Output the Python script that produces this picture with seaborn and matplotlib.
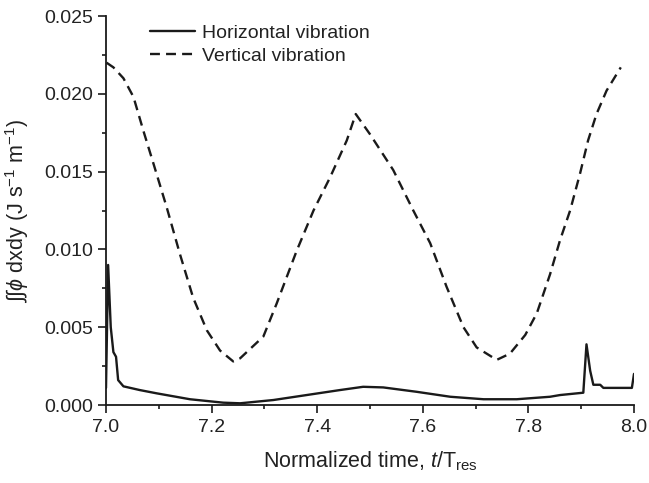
import numpy as np
import pandas as pd
import matplotlib
matplotlib.use("Agg")
import matplotlib.pyplot as plt
import seaborn as sns
from matplotlib.ticker import MultipleLocator, FormatStrFormatter

# Horizontal vibration (solid)
h_t = [7.000, 7.004, 7.009, 7.014, 7.019, 7.023, 7.033, 7.064, 7.096, 7.159, 7.222,
       7.254, 7.317, 7.380, 7.443, 7.487, 7.525, 7.588, 7.652, 7.715, 7.778, 7.841,
       7.860, 7.904, 7.910, 7.917, 7.923, 7.936, 7.942, 7.996, 8.000]
h_v = [0.0011, 0.0090, 0.0050, 0.0034, 0.0031, 0.0016, 0.0012, 0.00096, 0.00075, 0.00037,
       0.00015, 0.00011, 0.00032, 0.00064, 0.00096, 0.00117, 0.00113, 0.00085, 0.00053,
       0.00037, 0.00037, 0.00053, 0.00064, 0.00079, 0.0039, 0.0022, 0.0013, 0.0013,
       0.0011, 0.0011, 0.0020]

# Vertical vibration (dashed)
v_t = [7.001, 7.014, 7.033, 7.052, 7.071, 7.090, 7.115, 7.140, 7.165, 7.191, 7.216,
       7.241, 7.254, 7.298, 7.323, 7.361, 7.393, 7.424, 7.456, 7.473, 7.500, 7.544,
       7.582, 7.614, 7.645, 7.677, 7.702, 7.740, 7.765, 7.794, 7.816, 7.841, 7.860,
       7.879, 7.898, 7.913, 7.929, 7.948, 7.975]
v_v = [0.0220, 0.0217, 0.0210, 0.0198, 0.0176, 0.0155, 0.0127, 0.0097, 0.0069, 0.0048,
       0.0035, 0.0028, 0.0030, 0.0044, 0.0065, 0.0099, 0.0125, 0.0146, 0.0170, 0.0187,
       0.0174, 0.0151, 0.0125, 0.0104, 0.0076, 0.0050, 0.0037, 0.0029, 0.0033, 0.0045,
       0.0059, 0.0084, 0.0106, 0.0125, 0.0149, 0.0170, 0.0187, 0.0202, 0.0217]

labels = ["Horizontal vibration", "Vertical vibration"]

sns.set_theme(style="ticks")
plt.rcParams['font.family'] = ['Liberation Sans', 'DejaVu Sans']
plt.rcParams['mathtext.fontset'] = 'custom'
plt.rcParams['mathtext.rm'] = 'Liberation Sans'
plt.rcParams['mathtext.it'] = 'Liberation Sans:italic'
plt.rcParams['mathtext.sf'] = 'Liberation Sans'

FS = 14
LFS = 15.5
TXT = '#222222'
fig = plt.figure(figsize=(6.49, 4.83), dpi=100)
ax = fig.add_axes([106/649, 1-405/483, 528/649, 389/483])

col = '#1a1a1a'
sns.lineplot(x=h_t, y=h_v, ax=ax, color=col, lw=1.7, label=labels[0], sort=False)
sns.lineplot(x=v_t, y=v_v, ax=ax, color=col, lw=1.7, label=labels[1], sort=False,
             linestyle=(0, (4.2, 2.6)))

ax.set_xlim(7.0, 8.0)
ax.set_ylim(0.0, 0.025)
ax.xaxis.set_major_locator(MultipleLocator(0.2))
ax.xaxis.set_minor_locator(MultipleLocator(0.1))
ax.yaxis.set_major_locator(MultipleLocator(0.005))
ax.yaxis.set_minor_locator(MultipleLocator(0.0025))
ax.xaxis.set_major_formatter(FormatStrFormatter('%.1f'))
ax.yaxis.set_major_formatter(FormatStrFormatter('%.3f'))
ax.tick_params(which='major', direction='out', length=6, width=1.2, colors=col,
               labelsize=FS, labelcolor=TXT)
ax.tick_params(axis='x', which='major', pad=4)
ax.tick_params(axis='y', which='major', pad=3.5)
ax.tick_params(which='minor', direction='out', length=3, width=1.2, colors=col)
for s in ['top', 'right']:
    ax.spines[s].set_visible(False)
for s in ['left', 'bottom']:
    ax.spines[s].set_color(col)
    ax.spines[s].set_linewidth(1.3)

ax.set_xlabel(r'Normalized time, $\mathit{t}$/T$_{\rm res}$', fontsize=LFS, color=TXT, labelpad=10)
ax.set_ylabel('\u222B\u222B' + r'$\mathit{\phi}$ dxdy (J s$^{-1}$ m$^{-1}$)', fontsize=LFS,
              color=TXT, labelpad=9)

leg = ax.legend(loc='upper left', bbox_to_anchor=((150-106)/528, (405-24)/389),
                frameon=False, fontsize=FS, handlelength=2.3, handletextpad=0.35,
                labelspacing=0.3, borderpad=0, borderaxespad=0)
for t in leg.get_texts():
    t.set_color(TXT)

fig.savefig('out.png', dpi=100)
